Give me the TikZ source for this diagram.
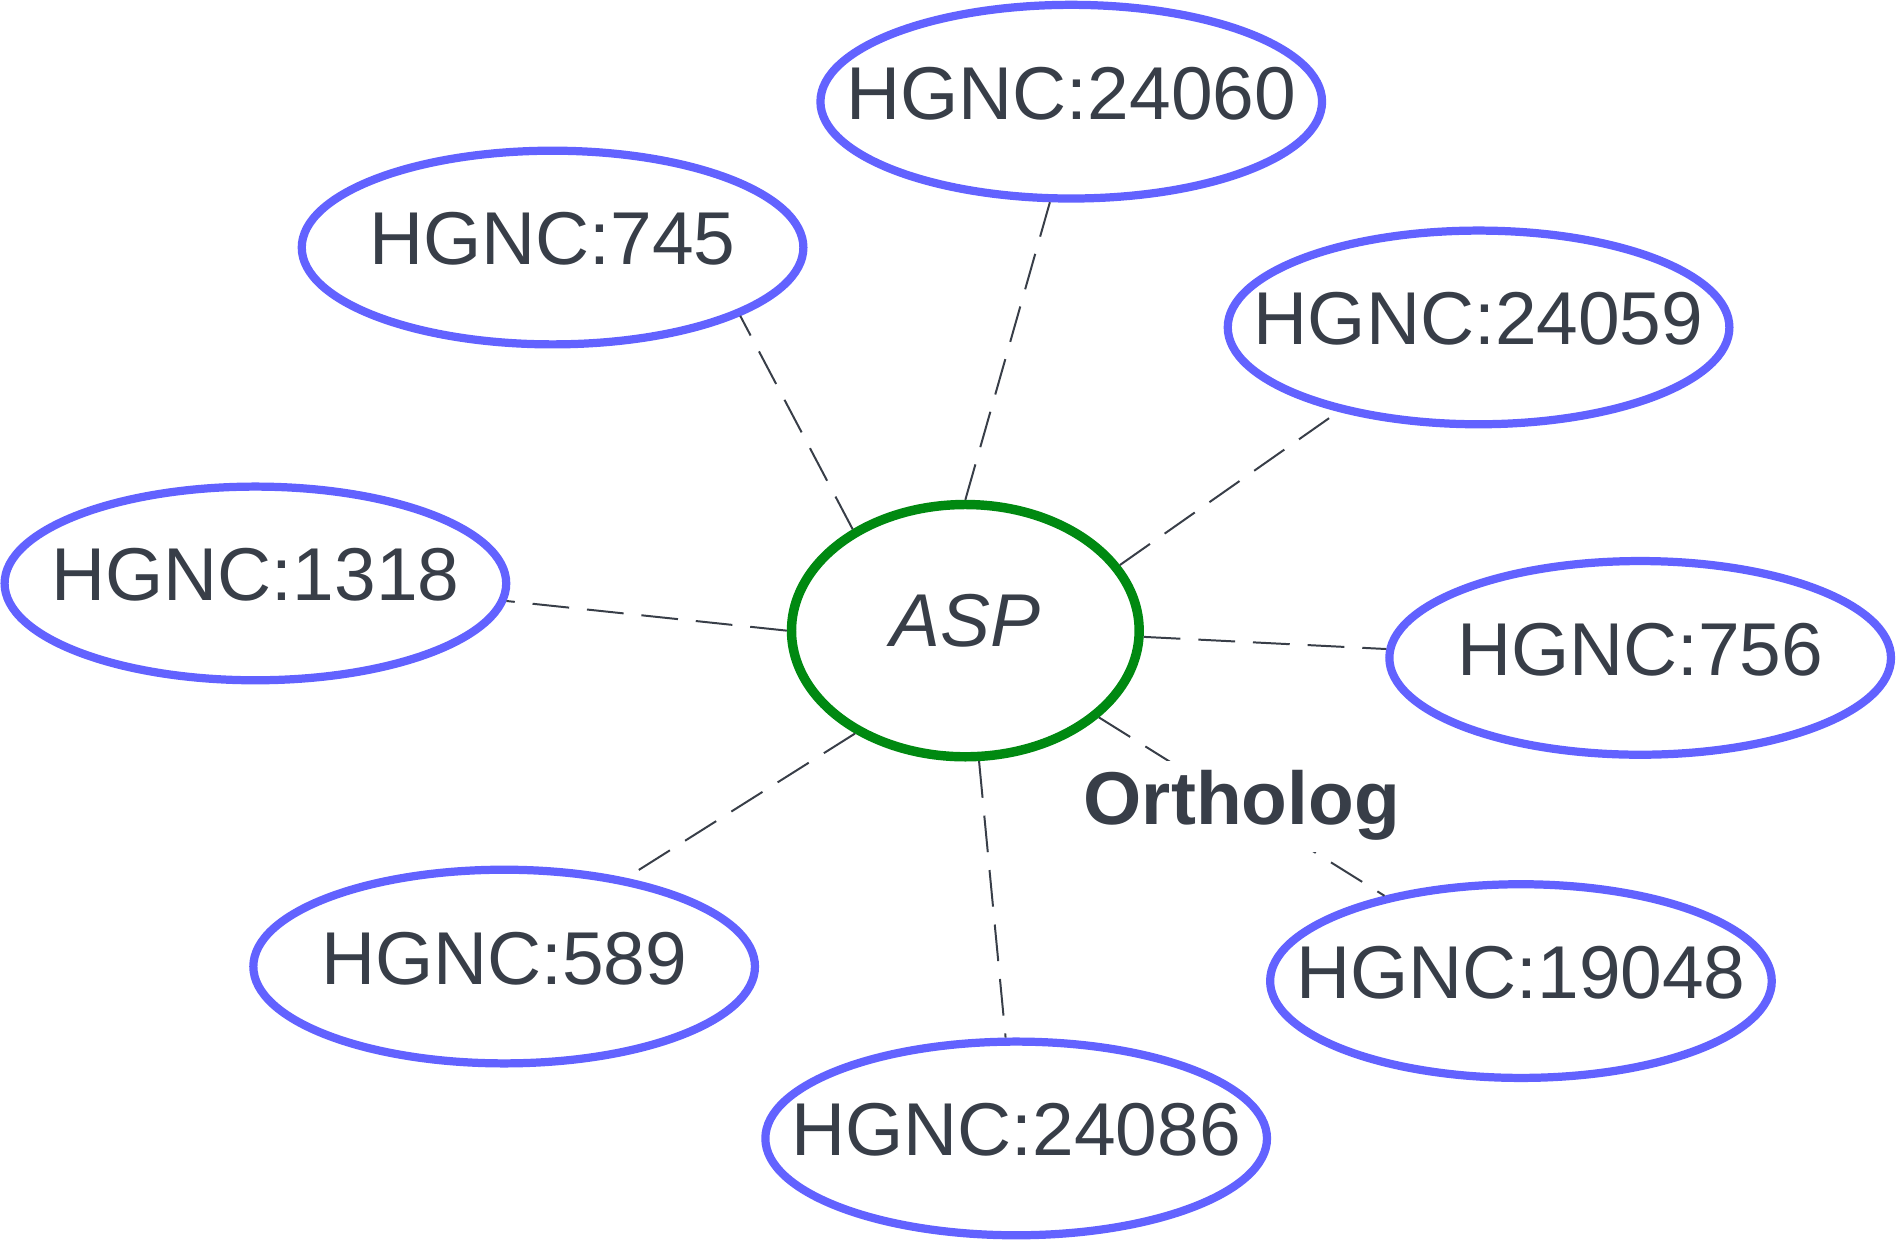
\documentclass[tikz,border=0pt]{standalone}
\usepackage{fontspec}
\setmainfont{Liberation Sans}
\usetikzlibrary{shapes.geometric}
\definecolor{txtgray}{RGB}{56,62,72}
\definecolor{hgncblue}{RGB}{98,98,255}
\definecolor{aspgreen}{RGB}{0,137,17}
\tikzset{
	gene/.style={ellipse,draw=hgncblue,line width=1.7mm,minimum width=103.6mm,minimum height=40mm,
		inner xsep=-15mm,inner ysep=0pt,text=txtgray,font=\fontsize{44}{50}\selectfont,text height=31.5pt,text depth=11pt},
	asp/.style={ellipse,draw=aspgreen,line width=1.95mm,minimum width=71.8mm,minimum height=52.1mm,
		inner sep=0pt,text=txtgray,font=\fontsize{44}{50}\selectfont\itshape,text height=31.5pt,text depth=13pt},
	link/.style={draw=txtgray,line width=0.41mm,dash pattern=on 7.6mm off 3.7mm},
}
\begin{document}
\begin{tikzpicture}[x=0.25mm,y=-0.25mm]
\useasboundingbox (0,0) rectangle (1568,1025);
\node[asp] (asp) at (797.5,521) {ASP};
\foreach \name/\x/\y in {24060/885/84,745/456.5/204.5,24059/1221.5/270.5,1318/211/482,
	756/1355/543.5,589/416.5/798.5,24086/839.5/940.5,19048/1256.5/810.5}{
	\node[gene] (n\name) at (\x,\y) {HGNC:\name};}
\foreach \a/\name/\b in {138/745/-20,90/24060/258,23/24059/211,180/1318/-4,
	-2/756/178,223/589/36,276/24086/96}{
	\draw[link] (asp.\a) -- (n\name.\b);}
% the one labelled link
\draw[link] (asp.-33) -- node[fill=white,text=txtgray,font=\fontsize{44}{50}\selectfont\bfseries,
	text height=31.5pt,text depth=11pt,inner sep=2mm] {Ortholog} (n19048.148);
\end{tikzpicture}
\end{document}
